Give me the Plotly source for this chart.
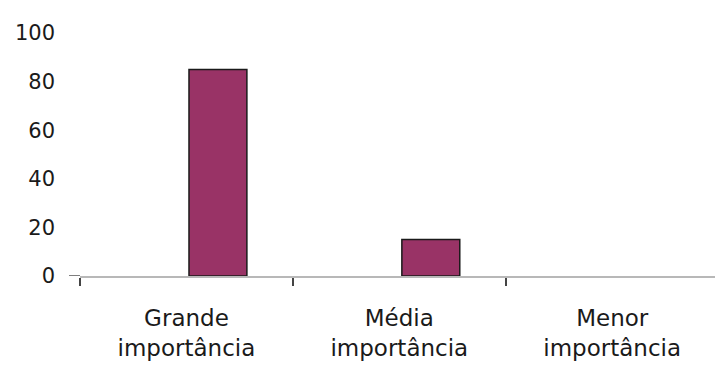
import plotly.graph_objects as go

categories = ["Grande<br>importância", "Média<br>importância", "Menor<br>importância"]
values = [85, 15, 0]
y_ticks = [0, 20, 40, 60, 80, 100]

fig = go.Figure()
fig.add_trace(go.Bar(
    x=categories, y=values,
    width=0.272, offset=0.012,
    marker=dict(color="#993366",
                line=dict(color="#1a1a1a", width=[1.5 if v > 0 else 0 for v in values])),
))

fig.update_layout(
    width=715, height=365,
    margin=dict(l=80, r=0, t=33, b=89),
    paper_bgcolor="white", plot_bgcolor="white",
    showlegend=False,
    font=dict(family="DejaVu Sans", color="#1a1a1a"),
)
# small tick at y = 0 on the value axis
fig.add_shape(type="line", xref="paper", yref="y", x0=-11/635, x1=0, y0=0, y1=0,
              line=dict(color="#555555", width=1.5))
fig.update_xaxes(
    range=[-0.5, 2.483],
    showline=True, linecolor="#b8b8b8", linewidth=2,
    ticks="outside", tickson="boundaries", ticklen=8, tickwidth=2, tickcolor="#444444",
    tickfont=dict(size=23), showgrid=False, ticklabelstandoff=20,
)
fig.update_yaxes(
    range=[0, 100], tickvals=y_ticks,
    showline=False, showgrid=False, zeroline=False,
    tickfont=dict(size=21), ticklabelstandoff=24,
)

fig.write_html("out.html")
